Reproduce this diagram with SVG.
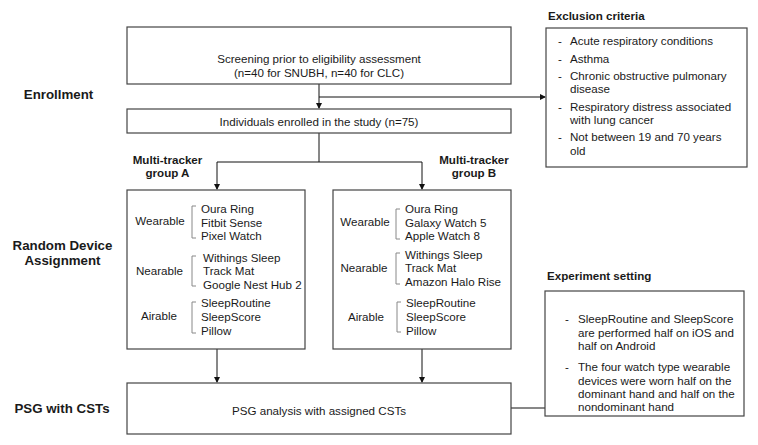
<svg xmlns="http://www.w3.org/2000/svg" width="758" height="445" viewBox="0 0 758 445">
<defs>
<marker id="arr" markerWidth="6" markerHeight="6" refX="5" refY="3" orient="auto" markerUnits="userSpaceOnUse">
<path d="M0,0 L6,3 L0,6 Z" fill="#111"/>
</marker>
<style>
text{font-family:"Liberation Sans",Arial,sans-serif;fill:#1a1a1a;font-size:11.6px}
.box{fill:#fff;stroke:#444;stroke-width:1.2}
.stage{font-weight:bold;font-size:13.3px;text-anchor:middle}
.title{font-weight:bold}
.mid{text-anchor:middle}
.br{fill:none;stroke:#888;stroke-width:1}
.con{fill:none;stroke:#111;stroke-width:1}
</style>
</defs>
<rect width="758" height="445" fill="#fff"/>

<g id="stage-labels">
<text class="stage" x="58.5" y="98.5">Enrollment</text>
<text class="stage" x="62.5" y="250">Random Device</text>
<text class="stage" x="62.5" y="265">Assignment</text>
<text class="stage" x="62" y="413">PSG with CSTs</text>
</g>

<g id="connectors">
<path class="con" d="M319,84 V108" marker-end="url(#arr)"/>
<path class="con" d="M319,97 H545" marker-end="url(#arr)"/>
<path class="con" d="M319,133 V162 M217,162 H422"/>
<path class="con" d="M217,162 V189" marker-end="url(#arr)"/>
<path class="con" d="M422,162 V189" marker-end="url(#arr)"/>
<path class="con" d="M217,349 V382" marker-end="url(#arr)"/>
<path class="con" d="M422,349 V382" marker-end="url(#arr)"/>
<path class="con" d="M511,408 H546"/>
</g>

<g id="screening">
<rect class="box" x="127" y="27" width="384" height="57"/>
<text class="mid" x="319" y="63">Screening prior to eligibility assessment</text>
<text class="mid" x="319" y="77">(n=40 for SNUBH, n=40 for CLC)</text>
</g>

<g id="enrolled">
<rect class="box" x="127" y="109" width="384" height="24"/>
<text class="mid" x="319" y="126">Individuals enrolled in the study (n=75)</text>
</g>

<g id="exclusion">
<text class="title" x="548" y="20">Exclusion criteria</text>
<rect class="box" x="546" y="28" width="201" height="139"/>
<text x="558" y="45">-</text><text x="570" y="45">Acute respiratory conditions</text>
<text x="558" y="63">-</text><text x="570" y="63">Asthma</text>
<text x="558" y="80">-</text><text x="570" y="80">Chronic obstructive pulmonary</text>
<text x="570" y="93">disease</text>
<text x="558" y="111">-</text><text x="570" y="111">Respiratory distress associated</text>
<text x="570" y="124">with lung cancer</text>
<text x="558" y="141">-</text><text x="570" y="141">Not between 19 and 70 years</text>
<text x="570" y="155">old</text>
</g>

<g id="groupA">
<text class="title mid" x="167.5" y="164">Multi-tracker</text>
<text class="title mid" x="167.5" y="177">group A</text>
<rect class="box" x="127" y="190" width="178" height="159"/>
<text class="mid" x="160" y="225">Wearable</text>
<path class="br" d="M196,206 H192 V238 H196"/>
<text x="201" y="213">Oura Ring</text>
<text x="201" y="227">Fitbit Sense</text>
<text x="201" y="240">Pixel Watch</text>
<text class="mid" x="159.5" y="275">Nearable</text>
<path class="br" d="M196,256 H192 V286 H196"/>
<text x="203" y="262">Withings Sleep</text>
<text x="203" y="275">Track Mat</text>
<text x="203" y="289">Google Nest Hub 2</text>
<text class="mid" x="159" y="320">Airable</text>
<path class="br" d="M196,302 H192 V333 H196"/>
<text x="201" y="307">SleepRoutine</text>
<text x="201" y="321">SleepScore</text>
<text x="201" y="335">Pillow</text>
</g>

<g id="groupB">
<text class="title mid" x="474" y="164">Multi-tracker</text>
<text class="title mid" x="474" y="177">group B</text>
<rect class="box" x="333" y="190" width="178" height="159"/>
<text class="mid" x="365" y="226">Wearable</text>
<path class="br" d="M400,209 H396 V239 H400"/>
<text x="405" y="213">Oura Ring</text>
<text x="405" y="227">Galaxy Watch 5</text>
<text x="405" y="240">Apple Watch 8</text>
<text class="mid" x="364" y="272">Nearable</text>
<path class="br" d="M400,253 H396 V284 H400"/>
<text x="405" y="259">Withings Sleep</text>
<text x="405" y="272">Track Mat</text>
<text x="405" y="286">Amazon Halo Rise</text>
<text class="mid" x="366" y="321">Airable</text>
<path class="br" d="M401,302 H397 V332 H401"/>
<text x="406" y="307">SleepRoutine</text>
<text x="406" y="321">SleepScore</text>
<text x="406" y="335">Pillow</text>
</g>

<g id="psg">
<rect class="box" x="127" y="383" width="384" height="51"/>
<text class="mid" x="319" y="415">PSG analysis with assigned CSTs</text>
</g>

<g id="experiment">
<text class="title" x="547" y="280">Experiment setting</text>
<rect class="box" x="545" y="291" width="199" height="125"/>
<text x="565" y="323">-</text><text x="578" y="323">SleepRoutine and SleepScore</text>
<text x="578" y="337">are performed half on iOS and</text>
<text x="578" y="350">half on Android</text>
<text x="565" y="371">-</text><text x="578" y="371">The four watch type wearable</text>
<text x="578" y="385">devices were worn half on the</text>
<text x="578" y="398">dominant hand and half on the</text>
<text x="578" y="411">nondominant hand</text>
</g>
</svg>
